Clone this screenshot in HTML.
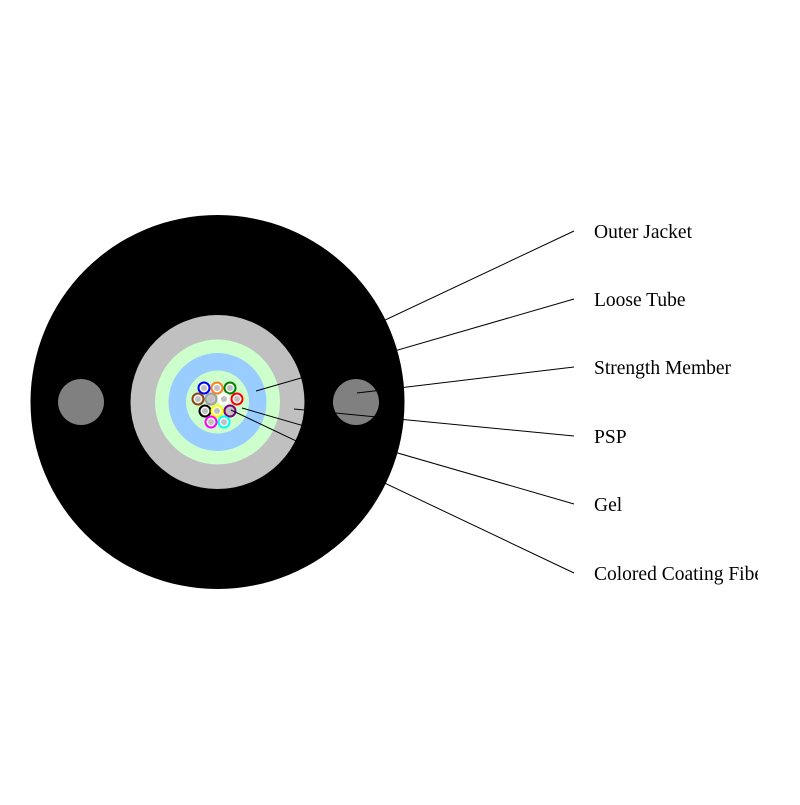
<!DOCTYPE html>
<html><head><style>html,body{margin:0;padding:0;background:#fff;}</style></head>
<body>
<svg width="800" height="800" xmlns="http://www.w3.org/2000/svg">
<defs><clipPath id="c"><rect x="0" y="0" width="758" height="800"/></clipPath></defs>
<circle cx="217.5" cy="402" r="187" fill="#000"/>
<circle cx="81" cy="402" r="23" fill="#808080"/>
<circle cx="356" cy="402" r="23" fill="#808080"/>
<circle cx="217.5" cy="402" r="87" fill="#c0c0c0"/>
<circle cx="217.5" cy="402" r="62.5" fill="#ccffcc"/>
<circle cx="217.5" cy="402" r="49" fill="#99ccff"/>
<circle cx="217.5" cy="402" r="31.5" fill="#ccffcc"/>
<g stroke-width="2" fill="#fff">
<circle cx="204" cy="388" r="5.5" stroke="#0000ff"/>
<circle cx="217" cy="388" r="5.5" stroke="#ff7f27"/>
<circle cx="230" cy="388" r="5.5" stroke="#008000"/>
<circle cx="198" cy="399" r="5.5" stroke="#8b4513"/>
<circle cx="211" cy="399" r="5.5" stroke="#a0a0a0" fill="#c8c8c8"/>
<circle cx="224" cy="399" r="5.5" stroke="#ffffff"/>
<circle cx="237" cy="399" r="5.5" stroke="#ff0000"/>
<circle cx="205" cy="411" r="5.5" stroke="#000000"/>
<circle cx="217" cy="411" r="5.5" stroke="#ffff00"/>
<circle cx="230" cy="411" r="5.5" stroke="#800080" fill="#c8c8c8"/>
<circle cx="211" cy="422" r="5.5" stroke="#ff00ff"/>
<circle cx="224" cy="422" r="5.5" stroke="#00ffff"/>
</g>
<g fill="#c0c0c0">
<circle cx="204" cy="388" r="3"/><circle cx="217" cy="388" r="3"/><circle cx="230" cy="388" r="3"/>
<circle cx="198" cy="399" r="3"/><circle cx="211" cy="399" r="3"/><circle cx="224" cy="399" r="3"/><circle cx="237" cy="399" r="3"/>
<circle cx="205" cy="411" r="3"/><circle cx="217" cy="411" r="3"/><circle cx="230" cy="411" r="3"/>
<circle cx="211" cy="422" r="3"/><circle cx="224" cy="422" r="3"/>
</g>
<g stroke="#000" stroke-width="1" fill="none">
<line x1="330" y1="346" x2="574" y2="231"/>
<line x1="256" y1="391" x2="574" y2="299"/>
<line x1="357" y1="393" x2="574" y2="367"/>
<line x1="294" y1="409" x2="574" y2="436"/>
<line x1="242" y1="408" x2="574" y2="504"/>
<line x1="231" y1="410" x2="574" y2="573"/>
</g>
<g clip-path="url(#c)" font-family="Liberation Serif, serif" font-size="19.5" fill="#000">
<text x="594" y="238">Outer Jacket</text>
<text x="594" y="306">Loose Tube</text>
<text x="594" y="374">Strength Member</text>
<text x="594" y="443">PSP</text>
<text x="594" y="511">Gel</text>
<text x="594" y="580">Colored Coating Fiber</text>
</g>
</svg>
</body></html>
